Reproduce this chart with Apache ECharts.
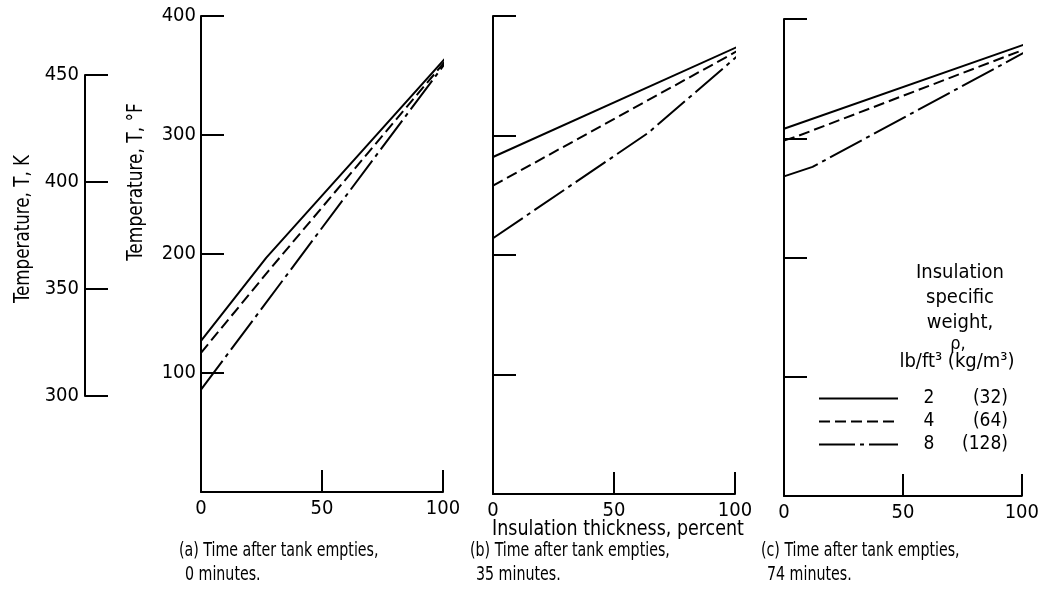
<!DOCTYPE html>
<html><head><meta charset="utf-8">
<script src="https://cdn.jsdelivr.net/npm/echarts@6/dist/echarts.min.js"></script>
<style>html,body{margin:0;padding:0;background:#fff}#c{width:1042px;height:604px}</style>
</head><body><div id="c"></div>
<script>
const FONT = "'DejaVu Sans Condensed', 'Liberation Sans', sans-serif";

// ---- data ----
const xTickValues = [0, 50, 100];
const xTickMarks = [50, 100];
const yTicksF = [100, 200, 300, 400];
const yTicksK = [300, 350, 400, 450];
const densityLb = ['2', '4', '8'];
const densitySI = ['(32)', '(64)', '(128)'];
const panelTitles = ['(a) Time after tank empties,', '(b) Time after tank empties,', '(c) Time after tank empties,'];
const panelTimes = ['0 minutes.', '35 minutes.', '74 minutes.'];

// [insulation thickness %, temperature °F]
const panelA_rho2 = [[0, 127], [27, 197], [103, 369]];
const panelA_rho4 = [[0, 117], [28, 186], [103, 367]];
const panelA_rho8 = [[0, 86], [103, 366]];
const panelB_rho2 = [[0, 282], [103, 376]];
const panelB_rho4 = [[0, 258], [103, 373]];
const panelB_rho8 = [[0, 214], [64, 302], [103, 370]];
const panelC_rho2 = [[0, 308], [103, 380]];
const panelC_rho4 = [[0, 298], [6, 302], [103, 376]];
const panelC_rho8 = [[0, 268], [12, 276], [103, 374]];

const panels = [
  [panelA_rho2, panelA_rho4, panelA_rho8],
  [panelB_rho2, panelB_rho4, panelB_rho8],
  [panelC_rho2, panelC_rho4, panelC_rho8]
];

// ---- styling ----
const lineTypes = ['solid', [11, 5], [36, 5, 4, 5]];
const black = '#000';
const tickFont = { color: black, fontFamily: FONT, fontSize: 20 };

const grids = [
  { left: 85, top: 75, width: 1, height: 321 },     // K scale
  { left: 201, top: 16, width: 242, height: 476 },  // (a)
  { left: 493, top: 16, width: 242, height: 478 },  // (b)
  { left: 784, top: 19, width: 242, height: 477 }   // (c)
];

const xAxes = [{ gridIndex: 0, type: 'value', show: false, min: 0, max: 1 }];
const yAxes = [{
  gridIndex: 0, type: 'value', min: 300, max: 450, position: 'left',
  axisLine: { show: true, lineStyle: { color: black, width: 2 } },
  axisTick: { show: true, inside: true, length: 23, lineStyle: { color: black, width: 2 }, customValues: yTicksK },
  axisLabel: { show: true, margin: 6, customValues: yTicksK, ...tickFont },
  splitLine: { show: false }
}];
for (let p = 0; p < 3; p++) {
  xAxes.push({
    gridIndex: p + 1, type: 'value', min: 0, max: 100,
    axisLine: { show: true, lineStyle: { color: black, width: 2 } },
    axisTick: { show: true, inside: true, length: 22, lineStyle: { color: black, width: 2 }, customValues: xTickMarks },
    axisLabel: { show: true, margin: 7, customValues: xTickValues, ...tickFont },
    splitLine: { show: false }
  });
  yAxes.push({
    gridIndex: p + 1, type: 'value', min: 0, max: 400, position: 'left',
    axisLine: { show: true, lineStyle: { color: black, width: 2 } },
    axisTick: { show: true, inside: true, length: 23, lineStyle: { color: black, width: 2 }, customValues: yTicksF },
    axisLabel: { show: p === 0, margin: 5, customValues: yTicksF, ...tickFont },
    splitLine: { show: false }
  });
}

const series = [];
panels.forEach((pan, p) => {
  pan.forEach((pts, i) => {
    series.push({
      type: 'line', name: densityLb[i], xAxisIndex: p + 1, yAxisIndex: p + 1,
      data: pts, symbol: 'none', showSymbol: false, clip: false, silent: true,
      lineStyle: { color: black, width: 2, type: lineTypes[i] },
      itemStyle: { color: black }
    });
  });
});

function txt(x, y, text, o) {
  o = o || {};
  const el = {
    type: 'text', x: x, y: y, silent: true,
    style: Object.assign({ text: text, fill: black, fontFamily: FONT, fontSize: 21, align: 'center', verticalAlign: 'middle' }, o.style || {})
  };
  if (o.rotation !== undefined) el.rotation = o.rotation;
  if (o.scaleX !== undefined) el.scaleX = o.scaleX;
  return el;
}

const graphics = [
  txt(24, 229, 'Temperature, T, K', { rotation: Math.PI / 2, scaleX: 0.886 }),
  txt(137, 182, 'Temperature, T, °F', { rotation: Math.PI / 2, scaleX: 0.9 }),
  txt(618, 530, 'Insulation thickness, percent', { scaleX: 0.926 }),
  txt(960, 273, 'Insulation', { style: { fontSize: 20 } }),
  txt(960, 298, 'specific', { style: { fontSize: 20 } }),
  txt(960, 323, 'weight,', { style: { fontSize: 20 } }),
  txt(958, 344, 'ρ,', { style: { fontSize: 18 } }),
  txt(957, 362, 'lb/ft³ (kg/m³)', { style: { fontSize: 20 } })
];
const capLeft = [179, 470, 761];
for (let p = 0; p < 3; p++) {
  graphics.push(txt(capLeft[p], 551, panelTitles[p], { scaleX: 0.79, style: { align: 'left', fontSize: 20 } }));
  graphics.push(txt(capLeft[p] + 6, 575, panelTimes[p], { scaleX: 0.79, style: { align: 'left', fontSize: 20 } }));
}

const chart = echarts.init(document.getElementById('c'), null, { renderer: 'canvas' });
chart.setOption({
  animation: false,
  backgroundColor: '#fff',
  grid: grids,
  xAxis: xAxes,
  yAxis: yAxes,
  legend: {
    left: 818, top: 389, orient: 'vertical', padding: 0, itemWidth: 79, itemHeight: 14, itemGap: 4,
    selectedMode: false, data: densityLb,
    itemStyle: { opacity: 0 },
    formatter: function (name) { return '{a|' + name + '}{b|' + densitySI[densityLb.indexOf(name)] + '}'; },
    textStyle: {
      color: black, fontFamily: FONT, fontSize: 19, lineHeight: 18,
      rich: {
        a: { width: 52, align: 'center', fontFamily: FONT, fontSize: 19, lineHeight: 18, color: black },
        b: { width: 53, align: 'right', fontFamily: FONT, fontSize: 19, lineHeight: 18, color: black }
      }
    }
  },
  graphic: graphics,
  series: series
});
</script>
</body></html>
